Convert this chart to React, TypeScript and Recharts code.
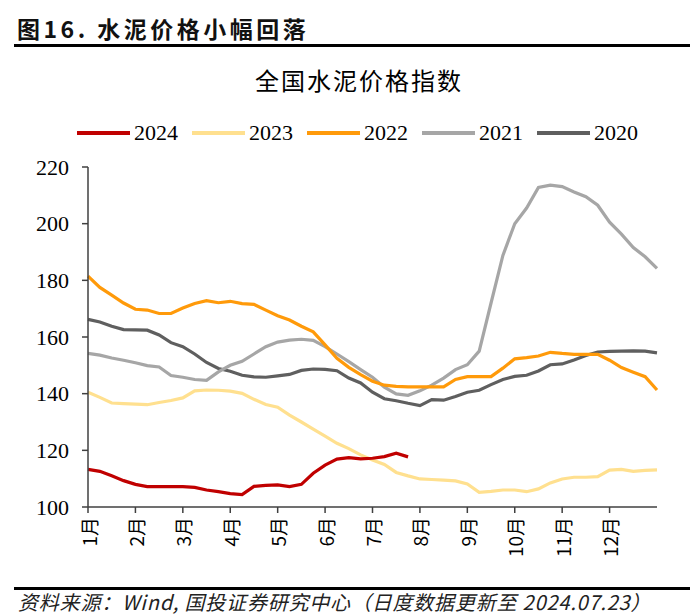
import { LineChart, Line, XAxis, YAxis } from 'recharts'

// x position in months from Jan 1 (quarter-month steps)
const MONTHS = [
  0, 0.25, 0.5, 0.75, 1, 1.25, 1.5, 1.75, 2, 2.25, 2.5, 2.75,
  3, 3.25, 3.5, 3.75, 4, 4.25, 4.5, 4.75, 5, 5.25, 5.5, 5.75,
  6, 6.25, 6.5, 6.75, 7, 7.25, 7.5, 7.75, 8, 8.25, 8.5, 8.75,
  9, 9.25, 9.5, 9.75, 10, 10.25, 10.5, 10.75, 11, 11.25, 11.5, 11.75, 12,
]
const MONTH_TICKS = [0, 1, 2, 3, 4, 5, 6, 7, 8, 9, 10, 11]
const MONTH_LABELS = ['1月', '2月', '3月', '4月', '5月', '6月', '7月', '8月', '9月', '10月', '11月', '12月']
const Y_TICKS = [100, 120, 140, 160, 180, 200, 220]

const S2024 = [
  113.3, 112.6, 111.0, 109.3, 108.0, 107.2, 107.2, 107.2, 107.2, 106.9, 106.0, 105.4,
  104.7, 104.4, 107.3, 107.6, 107.8, 107.2, 108.0, 111.9, 114.8, 116.9, 117.4, 117.0,
  117.2, 117.8, 119.0, 117.7,
]
const S2023 = [
  140.5, 138.7, 136.7, 136.5, 136.3, 136.1, 136.9, 137.6, 138.5, 141.0, 141.3, 141.2,
  140.9, 140.1, 138.0, 136.2, 135.2, 132.4, 130.0, 127.5, 125.0, 122.5, 120.6, 118.4,
  116.6, 115.0, 112.2, 111.0, 109.9, 109.7, 109.5, 109.2, 108.1, 105.2, 105.5, 106.0,
  106.0, 105.4, 106.4, 108.5, 109.9, 110.5, 110.5, 110.7, 113.0, 113.3, 112.6, 112.9, 113.1,
]
const S2022 = [
  181.5, 177.5, 174.8, 172.0, 169.8, 169.5, 168.3, 168.3, 170.2, 171.8, 172.8, 172.1,
  172.6, 171.8, 171.5, 169.5, 167.5, 166.0, 163.8, 161.8, 157.2, 152.5, 149.3, 146.7,
  144.4, 143.0, 142.6, 142.4, 142.4, 142.4, 142.4, 145.0, 146.0, 146.0, 146.0, 149.0,
  152.3, 152.7, 153.3, 154.6, 154.2, 153.9, 153.9, 153.9, 151.8, 149.2, 147.6, 146.0, 141.3,
]
const S2021 = [
  154.2, 153.6, 152.6, 151.8, 150.9, 149.9, 149.4, 146.4, 145.8, 145.0, 144.7, 147.7,
  150.0, 151.4, 154.0, 156.6, 158.2, 158.9, 159.2, 158.8, 156.6, 154.0, 151.3, 148.5,
  145.8, 142.3, 139.9, 139.4, 141.0, 143.0, 145.5, 148.5, 150.2, 155.0, 172.0, 188.8,
  200.0, 205.5, 212.8, 213.6, 213.1, 211.2, 209.5, 206.5, 200.5, 196.3, 191.6, 188.3, 184.2,
]
const S2020 = [
  166.2, 165.3, 163.8, 162.6, 162.5, 162.4, 160.7, 158.0, 156.6, 154.0, 151.0, 148.9,
  147.9, 146.5, 145.9, 145.8, 146.3, 146.8, 148.2, 148.7, 148.6, 148.1, 145.5, 143.8,
  140.5, 138.2, 137.5, 136.6, 135.8, 137.9, 137.7, 139.0, 140.5, 141.2, 143.2, 145.0,
  146.1, 146.5, 148.0, 150.2, 150.5, 151.9, 153.5, 154.7, 154.9, 155.0, 155.1, 155.0, 154.4,
]

const SERIES = [
  { key: 'y2024', name: '2024', color: '#C00000' },
  { key: 'y2023', name: '2023', color: '#FFE08F' },
  { key: 'y2022', name: '2022', color: '#FF9A0A' },
  { key: 'y2021', name: '2021', color: '#A6A6A6' },
  { key: 'y2020', name: '2020', color: '#5F5F5F' },
]

const data = MONTHS.map((m, i) => ({
  m,
  y2024: S2024[i],
  y2023: S2023[i],
  y2022: S2022[i],
  y2021: S2021[i],
  y2020: S2020[i],
}))

const SERIF = '"Liberation Serif", "Times New Roman", serif'
const CJK = '"Noto Sans CJK SC", sans-serif'
const AXIS = '#404040'

function MonthTick({ x, y, payload }: any) {
  return (
    <text
      transform={`translate(${x},${y}) rotate(-90)`}
      textAnchor="end"
      dominantBaseline="central"
      fontFamily={CJK}
      fontSize={19}
      fill="#000"
    >
      {MONTH_LABELS[payload.value]}
    </text>
  )
}

export default function App() {
  return (
    <div style={{ position: 'absolute', left: 0, top: 0, width: 700, height: 616, background: '#fff', overflow: 'hidden' }}>
      <div style={{ position: 'absolute', left: 17, top: 14, fontFamily: CJK, fontWeight: 700, fontSize: 23, letterSpacing: 3.5, lineHeight: '28px', color: '#111' }}>
        图16. 水泥价格小幅回落
      </div>
      <div style={{ position: 'absolute', left: 14, top: 44, width: 676, height: 3, background: '#000' }} />
      <div style={{ position: 'absolute', left: 0, width: 718, top: 64, textAlign: 'center', fontFamily: CJK, fontSize: 24, letterSpacing: 2, lineHeight: '32px', color: '#000' }}>
        全国水泥价格指数
      </div>

      <div style={{ position: 'absolute', left: 77, top: 120, display: 'flex', alignItems: 'center', height: 26 }}>
        {SERIES.map(s => (
          <div key={s.key} style={{ display: 'flex', alignItems: 'center', marginRight: 14 }}>
            <div style={{ width: 53, height: 3.5, background: s.color, marginRight: 4 }} />
            <span style={{ fontFamily: SERIF, fontSize: 22, color: '#000' }}>{s.name}</span>
          </div>
        ))}
      </div>

      <div style={{ position: 'absolute', left: 0, top: 0 }}>
        <LineChart width={700} height={616} data={data} margin={{ top: 167, right: 43, left: 28, bottom: 49 }}>
          <XAxis
            dataKey="m"
            type="number"
            domain={[0, 12]}
            ticks={MONTH_TICKS}
            interval={0}
            height={60}
            tickSize={6}
            tickMargin={4}
            tick={<MonthTick />}
            stroke={AXIS}
            strokeWidth={1.5}
          />
          <YAxis
            domain={[100, 220]}
            ticks={Y_TICKS}
            width={60}
            tickSize={6}
            tickMargin={13}
            tick={{ fontFamily: SERIF, fontSize: 22, fill: '#000' }}
            stroke={AXIS}
            strokeWidth={1.5}
            allowDataOverflow
          />
          {[...SERIES].reverse().map(s => (
            <Line
              key={s.key}
              type="linear"
              dataKey={s.key}
              stroke={s.color}
              strokeWidth={3.2}
              dot={false}
              activeDot={false}
              connectNulls={false}
              isAnimationActive={false}
            />
          ))}
        </LineChart>
      </div>

      <div style={{ position: 'absolute', left: 14, top: 587, width: 676, height: 2.5, background: '#000' }} />
      <div style={{ position: 'absolute', left: 18, top: 590, fontFamily: CJK, fontStyle: 'italic', fontSize: 20, letterSpacing: 0.8, lineHeight: '23px', color: '#222', whiteSpace: 'nowrap' }}>
        资料来源：Wind, 国投证券研究中心（日度数据更新至 2024.07.23）
      </div>
    </div>
  )
}
